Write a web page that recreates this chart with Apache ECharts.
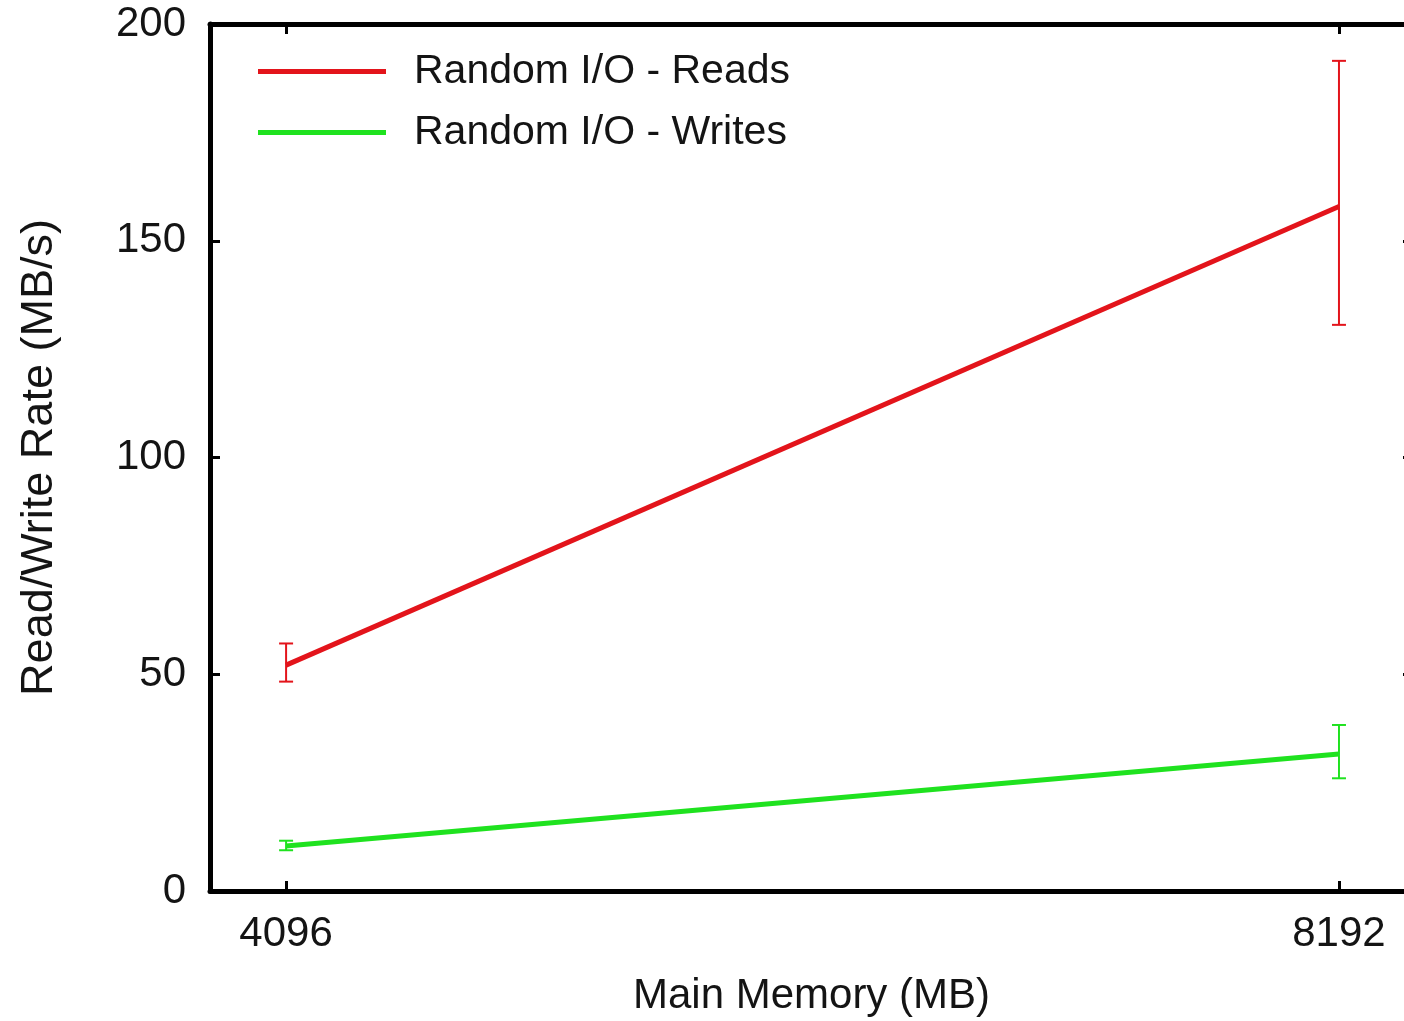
<!DOCTYPE html>
<html>
<head>
<meta charset="utf-8">
<script src="https://cdn.jsdelivr.net/npm/echarts@6/dist/echarts.min.js"></script>
<style>
  html, body { margin: 0; padding: 0; background: #ffffff; }
  #chart { width: 1404px; height: 1021px; }
</style>
</head>
<body>
<div id="chart"></div>
<script>
// Main memory sizes (MB) on the x axis
const memorySizes = [4096, 8192];

// Random I/O read rate (MB/s): mean and error-bar bounds
const readMean = [52.1, 157.9];
const readLow = [48.3, 130.6];
const readHigh = [57.1, 191.5];

// Random I/O write rate (MB/s): mean and error-bar bounds
const writeMean = [10.4, 31.6];
const writeLow = [9.4, 26.0];
const writeHigh = [11.6, 38.3];

const yTickValues = [0, 50, 100, 150, 200];

const RED = '#e3141b';
const GREEN = '#1fe21f';
const FONT = '"Liberation Sans", Arial, Helvetica, sans-serif';
const INK = '#141414';

function errorBars(color) {
  return function (params, api) {
    const x = api.value(0);
    const lo = api.coord([x, api.value(1)]);
    const hi = api.coord([x, api.value(2)]);
    const cap = 7;
    const style = { stroke: color, lineWidth: 2 };
    return {
      type: 'group',
      children: [
        { type: 'line', shape: { x1: lo[0], y1: lo[1], x2: hi[0], y2: hi[1] }, style },
        { type: 'line', shape: { x1: hi[0] - cap, y1: hi[1], x2: hi[0] + cap, y2: hi[1] }, style },
        { type: 'line', shape: { x1: lo[0] - cap, y1: lo[1], x2: lo[0] + cap, y2: lo[1] }, style }
      ]
    };
  };
}

const axisLineStyle = { color: '#000', width: 5 };
const tickStyle = { color: '#000', width: 3 };

const chart = echarts.init(document.getElementById('chart'));
chart.setOption({
  backgroundColor: '#ffffff',
  animation: false,
  textStyle: { fontFamily: FONT },
  grid: { left: 210, top: 24, width: 1203, height: 867, outerBoundsMode: 'none', containLabel: false },
  legend: {
    orient: 'vertical',
    left: 258,
    top: 51,
    padding: 0,
    data: ['Random I/O - Reads', 'Random I/O - Writes'],
    icon: 'rect',
    itemWidth: 128,
    itemHeight: 5,
    itemGap: 20,
    textStyle: { fontFamily: FONT, fontSize: 41, color: INK, padding: [0, 0, 0, 23] }
  },
  xAxis: [
    {
      type: 'value',
      position: 'bottom',
      min: 3800,
      max: 8480,
      name: 'Main Memory (MB)',
      nameLocation: 'middle',
      nameGap: 84,
      nameTextStyle: { fontFamily: FONT, fontSize: 42, color: INK },
      axisLine: { show: true, onZero: false, lineStyle: axisLineStyle },
      axisTick: { show: true, inside: true, length: 10, lineStyle: tickStyle, customValues: memorySizes },
      axisLabel: {
        show: true, fontFamily: FONT, fontSize: 42, color: INK, margin: 22,
        customValues: memorySizes,
        formatter: v => String(v)
      },
      splitLine: { show: false }
    },
    {
      type: 'value',
      position: 'top',
      min: 3800,
      max: 8480,
      axisLine: { show: true, onZero: false, lineStyle: axisLineStyle },
      axisTick: { show: true, inside: true, length: 10, lineStyle: tickStyle, customValues: memorySizes },
      axisLabel: { show: false },
      splitLine: { show: false }
    }
  ],
  yAxis: [
    {
      type: 'value',
      position: 'left',
      min: 0,
      max: 200,
      interval: 50,
      name: 'Read/Write Rate (MB/s)',
      nameLocation: 'middle',
      nameGap: 148,
      nameTextStyle: { fontFamily: FONT, fontSize: 45, color: INK },
      axisLine: { show: true, onZero: false, lineStyle: axisLineStyle },
      axisTick: { show: true, inside: true, length: 10, lineStyle: tickStyle },
      axisLabel: {
        fontFamily: FONT, fontSize: 42, color: INK, margin: 24,
        customValues: yTickValues,
        formatter: v => String(v)
      },
      splitLine: { show: false }
    },
    {
      type: 'value',
      position: 'right',
      min: 0,
      max: 200,
      interval: 50,
      axisLine: { show: true, onZero: false, lineStyle: axisLineStyle },
      axisTick: { show: true, inside: true, length: 10, lineStyle: tickStyle },
      axisLabel: { show: false },
      splitLine: { show: false }
    }
  ],
  series: [
    {
      name: 'Random I/O - Reads',
      type: 'line',
      xAxisIndex: 0,
      yAxisIndex: 0,
      data: memorySizes.map((m, i) => [m, readMean[i]]),
      showSymbol: false,
      lineStyle: { color: RED, width: 5 },
      itemStyle: { color: RED },
      z: 3
    },
    {
      name: 'Random I/O - Writes',
      type: 'line',
      xAxisIndex: 0,
      yAxisIndex: 0,
      data: memorySizes.map((m, i) => [m, writeMean[i]]),
      showSymbol: false,
      lineStyle: { color: GREEN, width: 5 },
      itemStyle: { color: GREEN },
      z: 3
    },
    {
      name: 'reads-error',
      type: 'custom',
      xAxisIndex: 0,
      yAxisIndex: 0,
      renderItem: errorBars(RED),
      data: memorySizes.map((m, i) => [m, readLow[i], readHigh[i]]),
      z: 4
    },
    {
      name: 'writes-error',
      type: 'custom',
      xAxisIndex: 0,
      yAxisIndex: 0,
      renderItem: errorBars(GREEN),
      data: memorySizes.map((m, i) => [m, writeLow[i], writeHigh[i]]),
      z: 4
    }
  ]
});
</script>
</body>
</html>
